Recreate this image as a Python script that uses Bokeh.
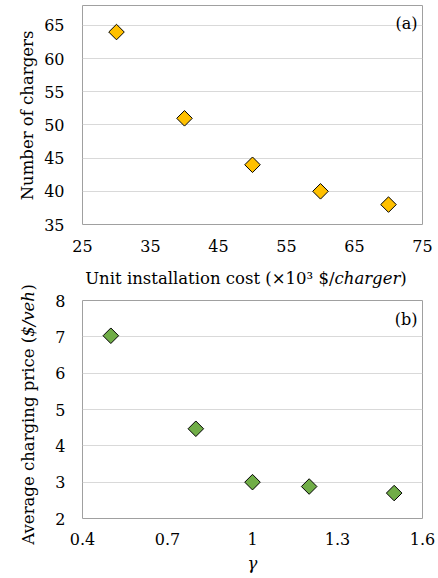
import math
from bokeh.plotting import figure
from bokeh.layouts import column, row
from bokeh.models import FixedTicker, Label, Range1d, CustomJSTickFormatter
from bokeh.embed import file_html
from bokeh.resources import INLINE

# ---- data ----
cost = [30, 40, 50, 60, 70]
chargers = [64, 51, 44, 40, 38]
gamma = [0.5, 0.8, 1.0, 1.2, 1.5]
price = [7.03, 4.47, 3.0, 2.88, 2.7]

xa_ticks = [25, 35, 45, 55, 65, 75]
ya_ticks = [35, 40, 45, 50, 55, 60, 65]
xb_ticks = [0.4, 0.7, 1.0, 1.3, 1.6]
yb_ticks = [2, 3, 4, 5, 6, 7, 8]

FONT = "DejaVu Serif"
TICK_FS = "16px"
TFS = 16.5          # title font size in px
GRID = "#d9d9d9"
FRAME = "#a0a0a0"
LEFT_W = 40         # width of the left strip holding the rotated y titles


def style(p, xt, yt, xstand, ystand):
    p.xaxis.ticker = FixedTicker(ticks=xt)
    p.yaxis.ticker = FixedTicker(ticks=yt)
    p.ygrid.ticker = FixedTicker(ticks=yt)
    p.xgrid.visible = False
    p.ygrid.grid_line_color = GRID
    p.ygrid.grid_line_width = 1
    p.outline_line_color = FRAME
    p.outline_line_width = 1
    for ax in (p.xaxis[0], p.yaxis[0]):
        ax.axis_line_color = None
        ax.major_tick_line_color = None
        ax.minor_tick_line_color = None
        ax.major_tick_out = 0
        ax.major_tick_in = 0
        ax.major_label_text_font = FONT
        ax.major_label_text_font_size = TICK_FS
        ax.major_label_text_color = "black"
    p.xaxis.major_label_standoff = xstand
    p.yaxis.major_label_standoff = ystand
    p.background_fill_color = "white"
    p.border_fill_color = "white"


def text_strip(width, height):
    f = figure(width=width, height=height, x_range=Range1d(0, width), y_range=Range1d(0, height),
               x_axis_type=None, y_axis_type=None, min_border=0,
               output_backend="svg", toolbar_location=None)
    f.grid.visible = False
    f.outline_line_color = None
    f.background_fill_color = "white"
    f.border_fill_color = "white"
    return f


def label(p, x, y, text, size, fstyle="normal", angle=0.0, align="left", baseline="middle"):
    p.add_layout(Label(x=x, y=y, x_units="canvas", y_units="canvas", text=text, text_font=FONT,
                       text_font_size=size, text_font_style=fstyle, angle=angle,
                       text_align=align, text_baseline=baseline, text_color="black"))


# ---- panel (a) ----
pa = figure(width=438 - LEFT_W, height=260, min_border_left=82 - LEFT_W, min_border_right=16,
            min_border_top=5, min_border_bottom=36,
            x_range=Range1d(25, 75), y_range=Range1d(35, 68),
            output_backend="svg", toolbar_location=None)
style(pa, xa_ticks, ya_ticks, 15, 18)
pa.scatter(cost, chargers, marker="square", angle=math.pi / 4, size=11,
           fill_color="#ffc000", line_color="black", line_width=1)
label(pa, 417 - LEFT_W, 23, "(a)", "16px", align="right")

# x title of (a): plain part right-aligned at the boundary, italic part after it
xt = text_strip(438 - LEFT_W, 30)
W1, W2 = 15.04 * TFS, 3.98 * TFS   # approx. widths of the plain and italic parts
total = W1 + W2 + 0.39 * TFS
b1 = 246 - total / 2 + W1
label(xt, b1 - LEFT_W, 18, "Unit installation cost (×10³ $/", f"{TFS}px", align="right")
label(xt, b1 - LEFT_W, 18, "charger", f"{TFS}px", fstyle="italic")
label(xt, b1 + W2 - LEFT_W, 18, ")", f"{TFS}px")

# ---- panel (b) ----
pb = figure(width=438 - LEFT_W, height=288, min_border_left=79 - LEFT_W, min_border_right=16,
            min_border_top=10, min_border_bottom=60,
            x_range=Range1d(0.4, 1.6), y_range=Range1d(2, 8),
            output_backend="svg", toolbar_location=None)
style(pb, xb_ticks, yb_ticks, 14, 17)
pb.xaxis.formatter = CustomJSTickFormatter(code="return String(Math.round(tick*10)/10);")
pb.scatter(gamma, price, marker="square", angle=math.pi / 4, size=11,
           fill_color="#70ad47", line_color="black", line_width=1)
pb.xaxis.axis_label = "γ"
pb.xaxis.axis_label_text_font = FONT
pb.xaxis.axis_label_text_font_style = "italic"
pb.xaxis.axis_label_text_font_size = f"{TFS}px"
pb.xaxis.axis_label_text_color = "black"
pb.xaxis.axis_label_standoff = 6
label(pb, 417 - LEFT_W, 318.5 - 290, "(b)", "16px", align="right")

# ---- left strip with the rotated y titles ----
left = text_strip(LEFT_W, 578)
label(left, 27, 115, "Number of chargers", f"{TFS}px", angle=math.pi / 2, align="center")
V1, V2 = 12.67 * TFS, 2.80 * TFS
vtotal = V1 + V2 + 0.39 * TFS
vb = 414.5 + vtotal / 2 - V1
label(left, 28, vb, "Average charging price (", f"{TFS}px", angle=math.pi / 2, align="right")
label(left, 28, vb, "$/veh", f"{TFS}px", fstyle="italic", angle=math.pi / 2)
label(left, 28, vb - V2, ")", f"{TFS}px", angle=math.pi / 2)

layout = row(left, column(pa, xt, pb, spacing=0), spacing=0)
open("out.html", "w").write(file_html(layout, INLINE))
